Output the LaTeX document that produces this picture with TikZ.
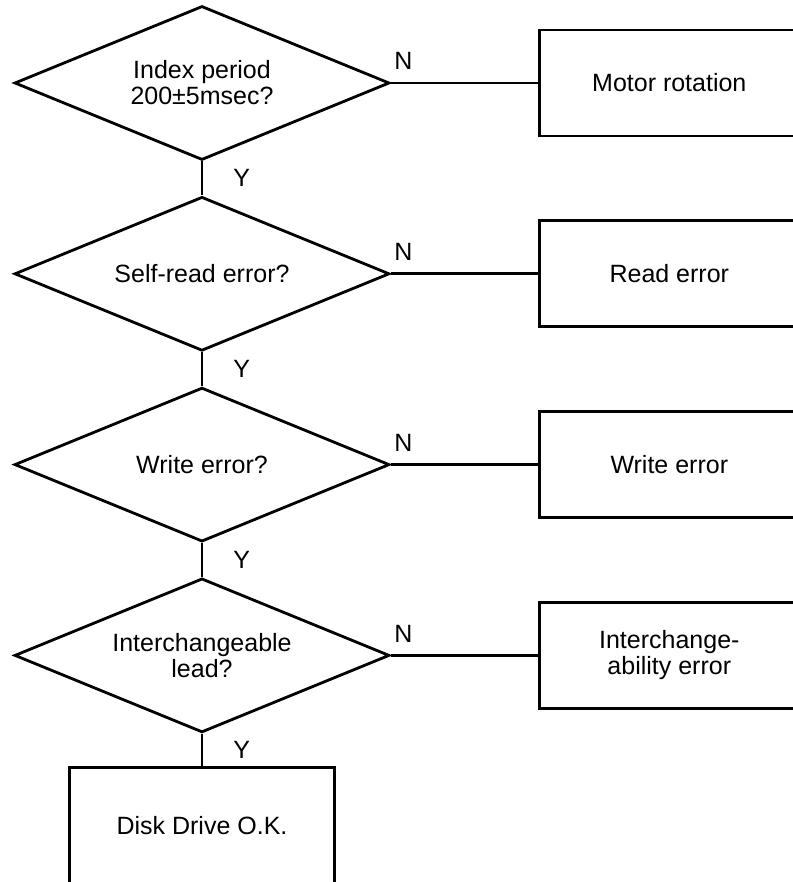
\documentclass[tikz,border=0pt]{standalone}
\usepackage{fontspec}
\setmainfont{Liberation Sans}
\usetikzlibrary{calc, positioning, shapes.geometric}
\tikzstyle{decision-box}=[
draw,
line width=1.4pt,
shape=diamond,
aspect=2.4,
minimum width=187.5pt,
minimum height=77pt,
inner sep=1pt,
align=center,
]
\tikzstyle{result-box}=[
draw,
line width=1.4pt,
shape=rectangle,
minimum width=130pt,
minimum height=53pt,
align=center,
]
\tikzstyle{answer-label}=[
inner sep=1pt,
]

\begin{document}
\begin{tikzpicture}[line width=1.4pt, font=\fontsize{12.5}{13}\selectfont]
        \useasboundingbox (0,0) rectangle (396pt,-441pt);
        \newcommand{\testrow}[2]
        {
          \node[result-box, right=73.5pt of {d#1}] (r#1) {#2};
          \node[answer-label, above right=5pt and 0pt of {d#1.east}] (n#1) {N};
          \draw (d#1) -- (r#1);
        }
        \node[decision-box] at (101pt,-41.5pt) (d1) {Index period\\200±5msec?};
        \node[decision-box, below=17pt of d1] (d2) {Self-read error?};
        \node[decision-box, below=17pt of d2] (d3) {Write error?};
        \node[decision-box, below=17pt of d3] (d4) {Interchangeable\\lead?};

        \testrow{1}{Motor rotation}
        \testrow{2}{Read error}
        \testrow{3}{Write error}
        \testrow{4}{Interchange-\\ability error}

        \node[result-box, below=16pt of d4, minimum width=132.5pt, minimum height=58pt] (ok) {Disk Drive O.K.};

        \foreach \i/\j in {1/2, 2/3, 3/4}
          {
          \draw (d\i) -- (d\j);
          \node[answer-label, right=14pt of {$(d\i.south)!0.5!(d\j.north)$}] (y\i) {Y};
          }
        \draw (d4) -- (ok);
        \node[answer-label, right=14pt of {$(d4.south)!0.5!(ok.north)$}] (y4) {Y};
      \end{tikzpicture}
\end{document}
